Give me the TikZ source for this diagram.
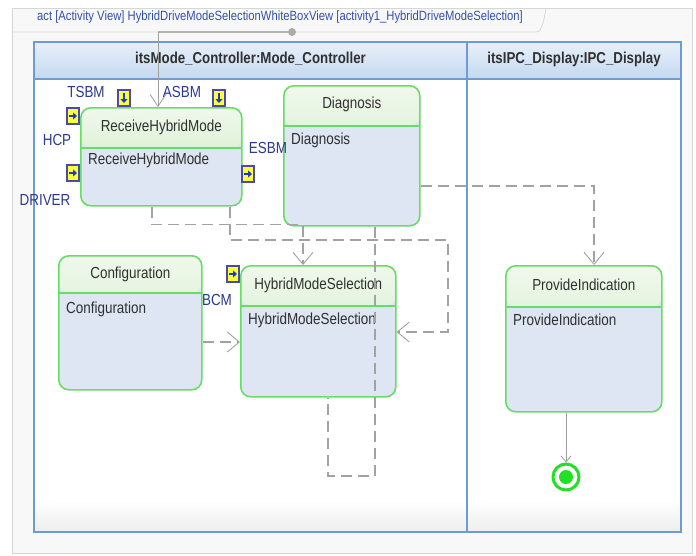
\documentclass[tikz,border=0pt]{standalone}
\usepackage{fontspec}
\setmainfont{Liberation Sans}[FakeStretch=0.84]
\usetikzlibrary{arrows.meta}

\definecolor{frameBg}{HTML}{F8F8F8}
\definecolor{frameLine}{HTML}{D6D6D6}
\definecolor{titleBlue}{HTML}{3350B0}
\definecolor{laneBlue}{HTML}{6C9BD6}
\definecolor{laneTop}{HTML}{E8F0FA}
\definecolor{laneBot}{HTML}{C4D8EF}
\definecolor{boxGreen}{HTML}{66DE66}
\definecolor{hdrTop}{HTML}{F0F8EC}
\definecolor{hdrBot}{HTML}{C6EABC}
\definecolor{bodyBlue}{HTML}{DDE6F2}
\definecolor{textDark}{HTML}{303030}
\definecolor{portText}{HTML}{2B3990}
\definecolor{portFill}{HTML}{FFFF3A}
\definecolor{portEdge}{HTML}{4A4AA8}
\definecolor{portArrow}{HTML}{1A3AD0}
\definecolor{connGray}{HTML}{A2A2A2}
\definecolor{finalGreen}{HTML}{22E022}

\begin{document}
\begin{tikzpicture}[x=1pt,y=-1pt,
  txt/.style={font=\fontsize{16}{18}\selectfont, text=textDark, inner sep=0pt},
  lanetitle/.style={font=\fontsize{15.8}{18}\selectfont\bfseries, text=textDark, inner sep=0pt},
  portlabel/.style={font=\fontsize{16}{18}\selectfont, text=portText, inner sep=0pt},
  block/.style={draw=boxGreen, line width=1.6pt, rounded corners=10pt, fill=bodyBlue,
    anchor=north west, inner sep=0pt,
    path picture={
      \shade[top color=hdrTop, bottom color=hdrBot]
        (path picture bounding box.north west) rectangle ([yshift=-#1]path picture bounding box.north east);
      \draw[boxGreen, line width=1.6pt]
        ([yshift=-#1]path picture bounding box.north west) -- ([yshift=-#1]path picture bounding box.north east);
    }},
  port/.style={draw=portEdge, fill=portFill, line width=1.1pt, minimum width=12pt,
    minimum height=16pt, inner sep=0pt},
  portdown/.style={port, path picture={
      \draw[portArrow, line width=2pt, -{Triangle[length=4pt,width=7pt]}]
        ([yshift=-3pt]path picture bounding box.north) -- ([yshift=3pt]path picture bounding box.south);}},
  portright/.style={port, path picture={
      \draw[portArrow, line width=2pt, -{Triangle[length=4pt,width=7pt]}]
        ([xshift=2pt]path picture bounding box.west) -- ([xshift=-2pt]path picture bounding box.east);}},
  dconn/.style={draw=connGray, line width=1.4pt, dash pattern=on 11pt off 6pt},
  dflow/.style={dconn, -{Straight Barb[length=12pt,width=20pt,line width=0.9pt]}},
]
\useasboundingbox (0,0) rectangle (696,555);

% outer diagram frame with its name tab
\fill[white] (0,0) rectangle (696,555);
\filldraw[fill=frameBg, draw=frameLine, line width=0.8pt] (12,8) rectangle (692,553);
\draw[frameLine, line width=0.8pt] (12,32) -- (536,32) .. controls (542,32) and (544,20) .. (546,8);
\node[font=\fontsize{13.4}{15}\selectfont, text=titleBlue, anchor=west, inner sep=0pt] (diagTitle) at (37,17)
  {act [Activity View] HybridDriveModeSelectionWhiteBoxView [activity1\_HybridDriveModeSelection]};

% swimlanes
\fill[white] (34,42) rectangle (681,532);
\shade[top color=white, bottom color=gray!14] (34,500) rectangle (681,532);
\shade[top color=laneTop, bottom color=laneBot] (34,42) rectangle (681,79);
\draw[laneBlue, line width=1.2pt] (34,79) -- (681,79);
\draw[laneBlue, line width=1.6pt] (467,42) -- (467,532);
\draw[laneBlue, line width=2pt] (34,42) rectangle (681,532);
\node[lanetitle] (laneCtrl) at (250.5,59) {itsMode\_Controller:Mode\_Controller};
\node[lanetitle] (laneIPC) at (574,59) {itsIPC\_Display:IPC\_Display};

% actions
\node[block=40pt, minimum width=161pt, minimum height=98pt] (rhm) at (80,107) {};
\node[block=40pt, minimum width=136pt, minimum height=140pt] (diag) at (283,85) {};
\node[block=37pt, minimum width=143pt, minimum height=134pt] (conf) at (58,255) {};
\node[block=40pt, minimum width=155pt, minimum height=131pt] (hms) at (240,265) {};
\node[block=41pt, minimum width=156pt, minimum height=146pt] (prov) at (505,265) {};

\node[txt] (rhmT) at ([yshift=-20pt]rhm.north) {ReceiveHybridMode};
\node[txt, anchor=west] (rhmB) at ([xshift=8pt,yshift=-53pt]rhm.north west) {ReceiveHybridMode};
\node[txt] (diagT) at ([yshift=-19pt]diag.north) {Diagnosis};
\node[txt, anchor=west] (diagB) at ([xshift=8pt,yshift=-55pt]diag.north west) {Diagnosis};
\node[txt] (confT) at ([yshift=-19pt]conf.north) {Configuration};
\node[txt, anchor=west] (confB) at ([xshift=8pt,yshift=-54pt]conf.north west) {Configuration};
\node[txt] (hmsT) at ([yshift=-20pt]hms.north) {HybridModeSelection};
\node[txt, anchor=west] (hmsB) at ([xshift=8pt,yshift=-55pt]hms.north west) {HybridModeSelection};
\node[txt] (provT) at ([yshift=-20pt]prov.north) {ProvideIndication};
\node[txt, anchor=west] (provB) at ([xshift=8pt,yshift=-55pt]prov.north west) {ProvideIndication};

% pins
\node[portdown] (pTSBM) at (124,98) {};
\node[portdown] (pASBM) at (219,98) {};
\node[portright] (pHCP) at (73,116) {};
\node[portright] (pDRIVER) at (73,173) {};
\node[portright] (pESBM) at (248,174) {};
\node[portright] (pBCM) at (233,274) {};
\node[portlabel] (lTSBM) at (86,92) {TSBM};
\node[portlabel] (lASBM) at (182,92) {ASBM};
\node[portlabel] (lHCP) at (57,140) {HCP};
\node[portlabel] (lDRIVER) at (45,200) {DRIVER};
\node[portlabel] (lESBM) at (268,148) {ESBM};
\node[portlabel] (lBCM) at (217,300) {BCM};

% final node
\node[circle, draw=finalGreen, line width=3pt, fill=white, minimum size=26pt, inner sep=0pt] (fin) at (566,477) {};
\node[circle, fill=finalGreen, minimum size=14pt, inner sep=0pt] (finDot) at (fin.center) {};

% entry flow from the frame
\node[circle, fill=gray!65, minimum size=8pt, inner sep=0pt] (srcDot) at (292,32) {};
\coordinate (srcBend) at (158,32);
\draw[gray!60, line width=2pt] (srcDot) -- (srcBend);
\draw[gray!75, line width=0.8pt, -{Straight Barb[length=12pt,width=16pt,line width=0.8pt]}]
  (srcBend) -- ([xshift=78pt]rhm.north west);

% dashed flows
\draw[dflow] ([xshift=72pt]rhm.south west) -- ++(0,18) -| ([xshift=63pt]hms.north west);
\coordinate (bTurn) at (448,240);
\draw[dflow] ([xshift=150pt]rhm.south west) |- (bTurn) |- ([yshift=-67pt]hms.north east);
\coordinate (cLoop) at (328,476);
\draw[dconn] ([xshift=92pt]diag.south west) |- (cLoop) -- ([xshift=88pt]hms.south west);
\draw[dflow] ([yshift=-101pt]diag.north east) -| ([xshift=89pt]prov.north west);
\draw[dflow] ([yshift=-87pt]conf.north east) -- ([yshift=-77pt]hms.north west);

% to the final node
\draw[gray!75, line width=0.8pt, -{Straight Barb[length=6pt,width=10pt,line width=0.8pt]}]
  ([xshift=61pt]prov.south west) -- (fin.north);
\end{tikzpicture}
\end{document}
